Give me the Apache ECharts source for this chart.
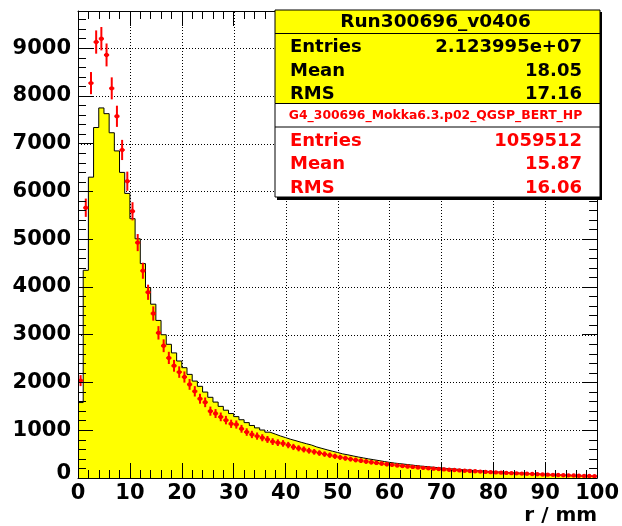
<!DOCTYPE html>
<html><head><meta charset="utf-8">
<script src="https://cdn.jsdelivr.net/npm/echarts@6/dist/echarts.min.js"></script>
<style>html,body{margin:0;padding:0;background:#fff}#c{width:622px;height:526px}</style>
</head><body><div id="c"></div>
<script>
// ---- data (1 mm bins, 0..100 mm) ----
const dataCounts = [
 1580,4350,6300,7340,7750,7630,7230,6850,6400,5960,
 5430,5010,4490,3990,3640,3300,3000,2800,2620,2450,
 2310,2170,2030,1920,1800,1690,1590,1500,1420,1350,
 1285,1220,1160,1100,1050,1005,960,920,880,845,
 810,780,748,718,690,650,620,590,562,535,
 505,485,462,440,420,400,382,364,345,328,
 312,300,288,275,262,250,240,230,220,210,
 200,192,184,176,168,160,153,146,139,132,
 125,120,114,109,103,98,92,86,80,73,
 66,62,58,53,49,45,41,36,31,27];
const mcCounts = [
 2040,5660,8270,9130,9200,8860,8160,7575,6870,6215,
 5585,4930,4340,3890,3445,3040,2770,2515,2350,2218,
 2115,1960,1815,1660,1585,1400,1350,1280,1212,1135,
 1120,1030,962,912,878,843,807,762,740,724,
 690,650,622,598,572,548,522,500,478,455,
 432,415,396,378,362,345,330,316,302,288,
 275,264,252,242,232,222,213,204,196,188,
 180,173,166,159,152,146,140,134,128,122,
 117,112,107,102,97,92,88,83,79,74,
 70,66,62,58,55,51,48,44,41,38];
const mcErrScale = 6.5; // statistical error = sqrt(count * scale)
const binLowEdges = dataCounts.map((_, i) => i);
const xTicks = [0,10,20,30,40,50,60,70,80,90,100];
const yTicks = [0,1000,2000,3000,4000,5000,6000,7000,8000,9000];
const dataTitle = 'Run300696_v0406';
const mcTitle = 'G4_300696_Mokka6.3.p02_QGSP_BERT_HP';
const statLabels = ['Entries','Mean','RMS'];
const dataStats = ['2.123995e+07','18.05','17.16'];
const mcStats = ['1059512','15.87','16.06'];
const xTitle = 'r / mm';

// ---- chart ----
const FONT = '"DejaVu Sans", sans-serif';
const X_MIN = 0, X_MAX = 100, Y_MIN = 0, Y_MAX = 9780;
const chart = echarts.init(document.getElementById('c'), null, {renderer:'canvas'});
const histData = binLowEdges.map((x, i) => [x, dataCounts[i]]);
histData.push([100, dataCounts[dataCounts.length - 1]]);
const mcData = binLowEdges.map((x, i) => [x, mcCounts[i]]);

const axisLineK = {show:true, onZero:false, lineStyle:{color:'#000', width:1}};
const labelStyle = {fontFamily:FONT, fontWeight:'bold', fontSize:21, color:'#000'};
const X_RANGE = {type:'value', min:X_MIN, max:X_MAX, interval:10};
const Y_RANGE = {type:'value', min:Y_MIN, max:Y_MAX, interval:1000};
const TICKS = {axisTick:{show:true, inside:true, length:15, lineStyle:{color:'#000'}},
               minorTick:{show:true, splitNumber:5, length:8, lineStyle:{color:'#000'}}};
const NO_TICKS = {axisTick:{show:false}, minorTick:{show:false}};
function ax(base, extra) { return Object.assign({}, base, extra); }

function statBox(x, y, w, title, titleColor, titleSize, vals, color, fill) {
  const els = [];
  els.push({type:'rect', shape:{x:x, y:y, width:w, height:93.5}, style:{fill:fill, stroke:'#000', lineWidth:1}, z:101});
  els.push({type:'line', shape:{x1:x, y1:y+23.5, x2:x+w, y2:y+23.5}, style:{stroke:'#000', lineWidth:1}, z:102});
  els.push({type:'text', x:x+w/2-2, y:y+12, style:{text:title, fill:titleColor, fontFamily:FONT, fontWeight:'bold', fontSize:titleSize, align:'center', verticalAlign:'middle'}, z:103});
  for (let i = 0; i < 3; i++) {
    const yy = y + 37.5 + i*23.5;
    els.push({type:'text', x:x+15, y:yy, style:{text:statLabels[i], fill:color, fontFamily:FONT, fontWeight:'bold', fontSize:18, align:'left', verticalAlign:'middle'}, z:103});
    els.push({type:'text', x:x+w-18, y:yy, style:{text:vals[i], fill:color, fontFamily:FONT, fontWeight:'bold', fontSize:18, align:'right', verticalAlign:'middle'}, z:103});
  }
  return els;
}

const graphics = [
  {type:'rect', shape:{x:277, y:12, width:325, height:188}, style:{fill:'#000'}, z:100}
].concat(
  statBox(275, 10, 325, dataTitle, '#000', 18.5, dataStats, '#000', '#ffff00'),
  statBox(275, 103.5, 325, mcTitle, '#ff0000', 12.4, mcStats, '#ff0000', '#ffffff')
);

const DOT = {stroke:'#000', lineWidth:1, lineDash:[1,2]};

const option = {
  animation:false,
  backgroundColor:'#fff',
  grid:{left:78, right:23, top:11, bottom:45, containLabel:false},
  xAxis:[
    ax(X_RANGE, Object.assign({position:'bottom', z:10, axisLine:axisLineK,
     axisLabel:Object.assign({margin:5}, labelStyle),
     splitLine:{show:false},
     name:xTitle, nameLocation:'end', nameGap:0,
     nameTextStyle:{fontFamily:FONT, fontWeight:'bold', fontSize:20, color:'#000', align:'right', verticalAlign:'top', padding:[28,0,0,0]}}, TICKS)),
    ax(X_RANGE, Object.assign({position:'top', z:10, axisLine:axisLineK, axisLabel:{show:false}, splitLine:{show:false}}, TICKS))
  ],
  yAxis:[
    ax(Y_RANGE, Object.assign({position:'left', z:10, axisLine:axisLineK,
     axisLabel:Object.assign({margin:7, showMaxLabel:false,
       formatter:function(v){ return v === 0 ? '{z|0}' : (yTicks.indexOf(v) >= 0 ? String(v) : ''); },
       rich:{z:{fontFamily:FONT, fontWeight:'bold', fontSize:21, color:'#000', padding:[0,0,8,0]}}}, labelStyle),
     splitLine:{show:false}}, TICKS)),
    ax(Y_RANGE, Object.assign({position:'right', z:10, axisLine:axisLineK, axisLabel:{show:false}, splitLine:{show:false}}, TICKS))
  ],
  series:[
    // dotted vertical grid lines at the x ticks
    {type:'custom', xAxisIndex:0, yAxisIndex:0, data:xTicks.slice(1, -1).map(v => [v, Y_MIN]), z:0, silent:true,
     renderItem:function(params, api){
       const a = api.coord([api.value(0), Y_MIN]), b = api.coord([api.value(0), Y_MAX]);
       return {type:'line', shape:{x1:Math.round(a[0])+0.5, y1:a[1], x2:Math.round(b[0])+0.5, y2:b[1]}, style:DOT};
     }},
    // dotted horizontal grid lines at the y ticks
    {type:'custom', xAxisIndex:0, yAxisIndex:0, data:yTicks.slice(1).map(v => [X_MIN, v]), z:0, silent:true,
     renderItem:function(params, api){
       const a = api.coord([X_MIN, api.value(1)]), b = api.coord([X_MAX, api.value(1)]);
       return {type:'line', shape:{x1:a[0], y1:Math.round(a[1])+0.5, x2:b[0], y2:Math.round(b[1])+0.5}, style:DOT};
     }},
    {type:'line', xAxisIndex:0, yAxisIndex:0, data:histData, step:'end', symbol:'none',
     lineStyle:{color:'#000', width:1}, areaStyle:{color:'#ffff00', opacity:1}, z:2, silent:true},
    {type:'custom', xAxisIndex:0, yAxisIndex:0, data:mcData, z:4, silent:true,
     renderItem:function(params, api){
       const x0 = api.value(0), v = api.value(1);
       const err = Math.sqrt(v * mcErrScale);
       const pL = api.coord([x0, v]), pR = api.coord([x0 + 1, v]);
       const pT = api.coord([x0 + 0.5, v + err]), pB = api.coord([x0 + 0.5, v - err]);
       const c = api.coord([x0 + 0.5, v]);
       return {type:'group', children:[
         {type:'line', shape:{x1:pL[0], y1:pL[1], x2:pR[0], y2:pR[1]}, style:{stroke:'#ff0000', lineWidth:2}},
         {type:'line', shape:{x1:pT[0], y1:pT[1], x2:pB[0], y2:pB[1]}, style:{stroke:'#ff0000', lineWidth:2}},
         {type:'circle', shape:{cx:c[0], cy:c[1], r:2.2}, style:{fill:'#ff0000'}}
       ]};
     }}
  ],
  graphic:graphics
};
chart.setOption(option);
</script>
</body></html>
